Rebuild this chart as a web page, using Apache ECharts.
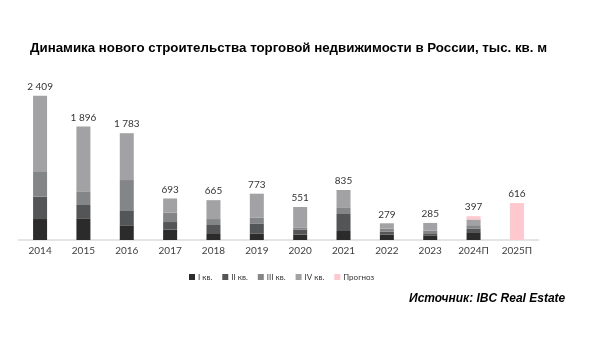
<!DOCTYPE html>
<html>
<head>
<meta charset="utf-8">
<script src="https://cdn.jsdelivr.net/npm/echarts@6/dist/echarts.min.js"></script>
<style>
  html, body { margin: 0; padding: 0; background: #ffffff; }
  #chart { width: 600px; height: 346px; }
</style>
</head>
<body>
<div id="chart"></div>
<script>
// Years (П = forecast)
const categories = ['2014', '2015', '2016', '2017', '2018', '2019', '2020', '2021', '2022', '2023', '2024П', '2025П'];

// New retail space commissioned by quarter, thousand sq. m
const q1 = [350, 362, 245, 172, 100, 110, 90, 150, 92, 70, 130, 0];
const q2 = [373, 222, 239, 128, 150, 167, 85, 284, 45, 30, 57, 0];
const q3 = [412, 229, 517, 155, 100, 100, 35, 112, 55, 55, 60, 0];
const q4 = [1274, 1083, 782, 238, 315, 396, 341, 289, 87, 130, 95, 0];
const forecast = [0, 0, 0, 0, 0, 0, 0, 0, 0, 0, 55, 616];

const seriesNames = ['I кв.', 'II кв.', 'III кв.', 'IV кв.', 'Прогноз'];
const seriesData = [q1, q2, q3, q4, forecast];
const seriesColors = ['#2b2b2b', '#535557', '#848587', '#a2a2a4', '#ffc7ce'];

function total(i) {
  return seriesData.reduce((s, arr) => s + arr[i], 0);
}
function topIndex(i) {
  let top = -1;
  seriesData.forEach((arr, k) => { if (arr[i] > 0) top = k; });
  return top;
}
function fmt(v) {
  return String(v).replace(/\B(?=(\d{3})+(?!\d))/g, '\u00a0');
}

const chart = echarts.init(document.getElementById('chart'), null, { renderer: 'canvas' });

const series = seriesData.map((arr, k) => ({
  name: seriesNames[k],
  type: 'bar',
  stack: 'total',
  data: arr,
  barWidth: 14,
  itemStyle: { color: seriesColors[k] },
  emphasis: { disabled: true },
  label: {
    show: true,
    position: 'top',
    distance: 4,
    color: '#333333',
    fontFamily: 'Lato',
    fontSize: 10,
    formatter: p => (topIndex(p.dataIndex) === k ? fmt(total(p.dataIndex)) : '')
  }
}));

chart.setOption({
  animation: false,
  title: [
    {
      text: 'Динамика нового строительства торговой недвижимости в России, тыс. кв. м',
      left: 30,
      top: 42,
      padding: 0,
      textStyle: { fontFamily: 'Liberation Sans', fontWeight: 'bold', fontSize: 13.3, color: '#000000' }
    },
    {
      text: 'Источник: IBC Real Estate',
      left: 409,
      top: 293,
      padding: 0,
      textStyle: { fontFamily: 'Liberation Sans', fontWeight: 'bold', fontStyle: 'italic', fontSize: 12, color: '#000000' }
    }
  ],
  legend: {
    data: seriesNames,
    left: 189,
    top: 273,
    padding: 0,
    itemWidth: 6,
    itemHeight: 6,
    itemGap: 10,
    icon: 'rect',
    textStyle: { fontFamily: 'Lato', fontSize: 8, color: '#333333', padding: [0, 0, 0, -2] }
  },
  grid: { left: 18.4, right: 61.4, top: 80, bottom: 106 },
  xAxis: {
    type: 'category',
    data: categories,
    axisLine: { lineStyle: { color: '#dcdcdc', width: 1.5 } },
    axisTick: { show: false },
    axisLabel: { color: '#404040', fontFamily: 'Lato', fontSize: 10, margin: 6 }
  },
  yAxis: {
    type: 'value',
    min: 0,
    max: 2671,
    show: false,
    splitLine: { show: false }
  },
  series
});
</script>
</body>
</html>
